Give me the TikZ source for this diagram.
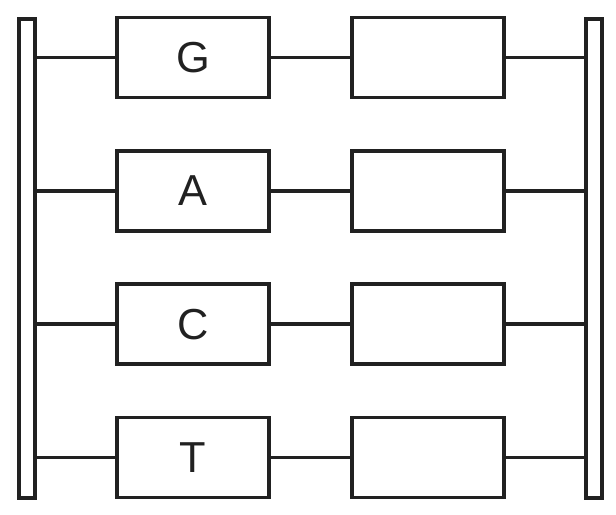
\documentclass[tikz,border=0pt]{standalone}
\usepackage{fontspec}
\setmainfont{Liberation Sans}
\usetikzlibrary{positioning}

\begin{document}
\begin{tikzpicture}[
  x=0.03cm, y=-0.03cm,
  every node/.style={draw=black!87, text=black!87, line width=3.3pt, inner sep=0pt},
  base/.style={rectangle, minimum width=4.56cm, minimum height=2.4cm, font=\fontsize{37}{40}\selectfont},
  rail/.style={rectangle, minimum width=0.47cm, minimum height=14.38cm},
  link/.style={draw=black!87, line width=3.3pt}
]
\useasboundingbox (0,0) rectangle (616,515);

\node[rail] (railL) at (27,258.4) {};
\node[rail] (railR) at (594,258.4) {};

\foreach \b [count=\i] in {G,A,C,T} {
  \node[base] (base\i) at (193,{57.5+133.33*(\i-1)}) {\b};
  \node[base] (slot\i) at (428,{57.5+133.33*(\i-1)}) {};
  \draw[link] (railL.east |- base\i) -- (base\i.west);
  \draw[link] (base\i) -- (slot\i);
  \draw[link] (slot\i.east) -- (railR.west |- slot\i);
}

\end{tikzpicture}
\end{document}
